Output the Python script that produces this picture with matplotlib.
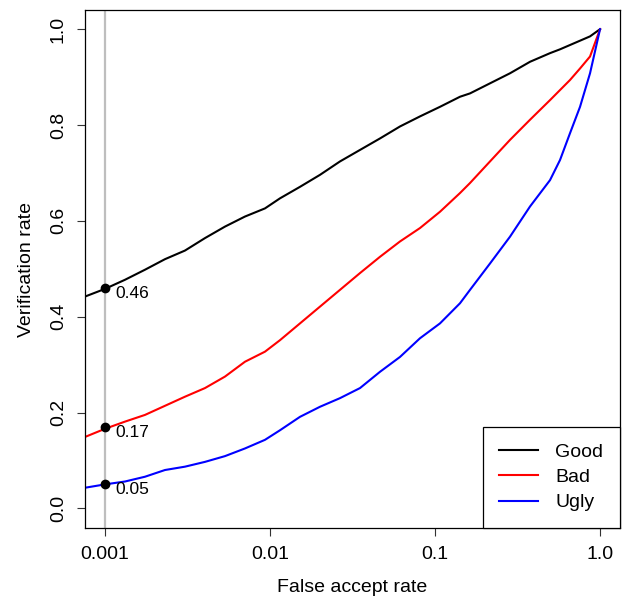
"""Verification rate vs false accept rate (ROC) for the Good, Bad and Ugly partitions.

Writes out.png with the three ROC curves on a log false-accept axis and
the verification rates read off at FAR = 0.001.
"""

from __future__ import annotations

import matplotlib

matplotlib.use("Agg")
import matplotlib.pyplot as plt

# False accept rate sample points
far = [0.000757, 0.001, 0.001322, 0.001748, 0.00231, 0.003054, 0.004037,
       0.005337, 0.007055, 0.009326, 0.0115, 0.0152, 0.02009, 0.02656,
       0.03511, 0.04642, 0.06136, 0.08111, 0.1072, 0.1417, 0.163, 0.2154,
       0.2848, 0.3765, 0.4977, 0.5722, 0.6579, 0.7564, 0.8697, 1.0]

good_vr = [0.442, 0.458, 0.477, 0.498, 0.520, 0.538, 0.564, 0.588, 0.609,
           0.626, 0.647, 0.671, 0.696, 0.724, 0.748, 0.772, 0.797, 0.818,
           0.838, 0.859, 0.866, 0.887, 0.908, 0.932, 0.950, 0.958, 0.967,
           0.976, 0.985, 1.0]
bad_vr = [0.149, 0.166, 0.181, 0.195, 0.214, 0.233, 0.251, 0.275, 0.306,
          0.327, 0.351, 0.386, 0.421, 0.456, 0.491, 0.525, 0.557, 0.585,
          0.619, 0.658, 0.679, 0.724, 0.769, 0.811, 0.852, 0.873, 0.894,
          0.918, 0.943, 1.0]
ugly_vr = [0.043, 0.050, 0.056, 0.066, 0.080, 0.087, 0.097, 0.109, 0.125,
           0.143, 0.163, 0.191, 0.212, 0.230, 0.251, 0.285, 0.316, 0.355,
           0.386, 0.428, 0.456, 0.511, 0.567, 0.630, 0.685, 0.727, 0.783,
           0.838, 0.908, 1.0]

series_names = ["Good", "Bad", "Ugly"]
series_colors = ["black", "red", "blue"]

# operating point marked on the plot
far_point = 0.001
vr_at_point = [0.46, 0.17, 0.05]
vr_labels = ["0.46", "0.17", "0.05"]

x_ticks = [0.001, 0.01, 0.1, 1.0]
x_tick_labels = ["0.001", "0.01", "0.1", "1.0"]
y_ticks = [0.0, 0.2, 0.4, 0.6, 0.8, 1.0]
y_tick_labels = ["0.0", "0.2", "0.4", "0.6", "0.8", "1.0"]


def render(output: str = "out.png") -> None:
    plt.rcParams["font.family"] = ["Liberation Sans", "DejaVu Sans"]

    fig = plt.figure(figsize=(6.29, 6.0), dpi=100)
    ax = fig.add_axes([0.1351, 0.12, 0.8506, 0.8633])

    ax.axvline(far_point, color="#BEBEBE", linewidth=1.6, zorder=1)

    for name, color, vr in zip(series_names, series_colors,
                               [good_vr, bad_vr, ugly_vr]):
        ax.plot(far, vr, color=color, linewidth=1.5, label=name, zorder=2)

    ax.plot([far_point] * len(vr_at_point), vr_at_point, "o",
            color="black", markersize=6, zorder=3)
    for v, lab in zip(vr_at_point, vr_labels):
        ax.annotate(lab, (far_point, v), xytext=(7.5, -4),
                    textcoords="offset points", ha="left", va="center",
                    fontsize=12.5)

    ax.set_xscale("log")
    ax.set_xlim(10 ** -3.121, 10 ** 0.121)
    ax.set_ylim(-0.041, 1.04)

    ax.set_xticks(x_ticks)
    ax.set_xticklabels(x_tick_labels)
    ax.xaxis.set_minor_locator(matplotlib.ticker.NullLocator())
    ax.set_yticks(y_ticks)
    ax.set_yticklabels(y_tick_labels, rotation=90, va="center")

    ax.tick_params(axis="both", direction="out", length=6, width=0.8,
                   labelsize=14, pad=7, color="#333333")
    for spine in ax.spines.values():
        spine.set_linewidth(0.9)

    ax.set_xlabel("False accept rate", fontsize=14)
    ax.set_ylabel("Verification rate", fontsize=14)
    ax.xaxis.set_label_coords(0.5, -0.099)
    ax.yaxis.set_label_coords(-0.093, 0.5)

    leg = ax.legend(loc="lower right", borderaxespad=0, fancybox=False,
                    framealpha=1, edgecolor="black", fontsize=14,
                    handlelength=2.0, handletextpad=0.9, labelspacing=0.4,
                    borderpad=0.85)
    leg.get_frame().set_linewidth(0.9)

    fig.savefig(output)
    plt.close(fig)


if __name__ == "__main__":
    render()
